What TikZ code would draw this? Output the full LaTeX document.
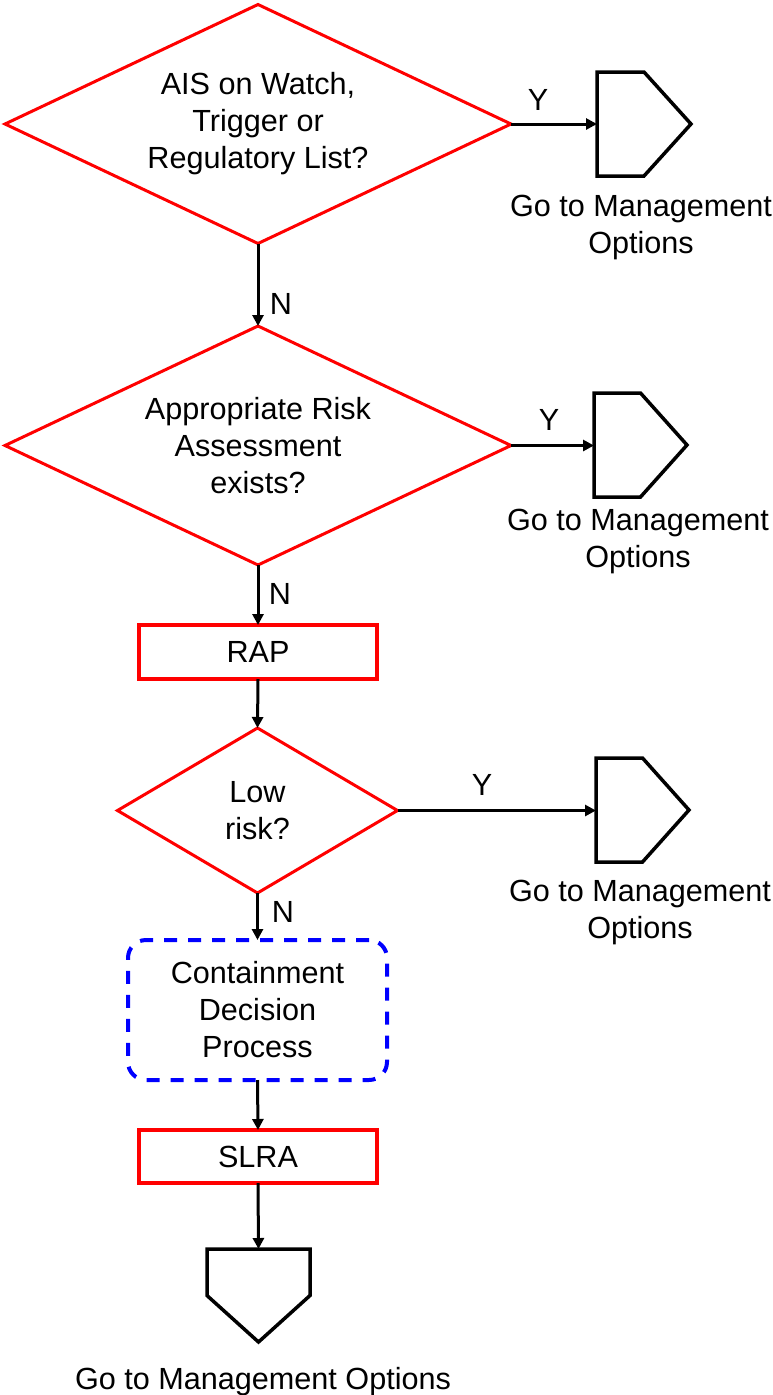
\documentclass[tikz,border=0pt]{standalone}
\usepackage{xcolor}
\usepackage{fontspec}
\setmainfont{Liberation Sans}
\usepackage{tikz}
\usetikzlibrary{positioning, arrows.meta, shapes.geometric}
\definecolor{FlowRed}{RGB}{255,0,0}
\definecolor{FlowBlue}{RGB}{0,0,255}
\newcommand{\flowfont}{\fontsize{30.6}{37}\selectfont}

\begin{document}
\begin{tikzpicture}[x=1pt, y=-1pt, >={Triangle[length=11pt,width=11pt]},
  decision/.style={diamond, draw=FlowRed, line width=3pt, inner sep=0pt, outer sep=0pt, align=center, font=\flowfont},
  process/.style={rectangle, draw=FlowRed, line width=3.5pt, minimum width=238pt, minimum height=54pt, inner sep=0pt, outer sep=0pt, font=\flowfont},
  container/.style={rectangle, rounded corners=18pt, draw=FlowBlue, line width=4pt, dash pattern=on 13pt off 11pt, minimum width=259pt, minimum height=140pt, inner sep=0pt, outer sep=0pt, align=center, font=\flowfont},
  offpage/.style={rectangle, draw=none, inner sep=0pt, outer sep=0pt},
  flowarrow/.style={->, line width=3pt, black},
  lbl/.style={inner sep=0pt, align=center, font=\flowfont}]
  \useasboundingbox (0,0) rectangle (773,1395);

  % decisions and process boxes
  \node[decision, aspect=2.12, minimum width=506pt, minimum height=239pt] (watch) at (258,124) {AIS on Watch,\\Trigger or\\Regulatory List?};
  \node[decision, aspect=2.12, minimum width=506pt, minimum height=239pt] (riskex) at (258,445.5) {Appropriate Risk\\Assessment\\exists?};
  \node[process] (rap) at (258,652) {RAP};
  \node[decision, aspect=1.7, minimum width=280pt, minimum height=165pt] (lowrisk) at (257.5,810.5) {Low\\risk?};
  \node[container] (contain) at (257.5,1010) {Containment\\Decision\\Process};
  \node[process, minimum height=53pt] (slra) at (258,1156.5) {SLRA};

  % off-page connectors
  \node[offpage, minimum width=94pt, minimum height=104pt] (mgmtA) at (644,124) {};
  \node[offpage, minimum width=93pt, minimum height=104pt] (mgmtB) at (640.5,445) {};
  \node[offpage, minimum width=93pt, minimum height=104pt] (mgmtC) at (642.5,810) {};
  \node[offpage, minimum width=103pt, minimum height=93pt] (mgmtD) at (258.5,1295.5) {};
  \foreach \p in {mgmtA, mgmtB, mgmtC}
    \draw[line width=3.5pt, line join=miter] (\p.north west) -- (\p.north) -- (\p.east) -- (\p.south) -- (\p.south west) -- cycle;
  \draw[line width=3.5pt, line join=miter] (mgmtD.north west) -- (mgmtD.north east) -- (mgmtD.east) -- (mgmtD.south) -- (mgmtD.west) -- cycle;

  \node[lbl, anchor=north] (txtA) at (641,195) {Go to Management\\Options};
  \node[lbl, anchor=north] (txtB) at (638,509) {Go to Management\\Options};
  \node[lbl, anchor=north] (txtC) at (640,880) {Go to Management\\Options};
  \node[lbl, anchor=north] (txtD) at (263,1367) {Go to Management Options};

  % connectors
  \draw[flowarrow] (watch.south) -- (riskex.north);
  \draw[flowarrow] (riskex.south) -- (rap.north);
  \draw[flowarrow] (rap.south) -- (lowrisk.north);
  \draw[flowarrow] (lowrisk.south) -- (contain.north);
  \draw[flowarrow] (contain.south) -- (slra.north);
  \draw[flowarrow] (slra.south) -- (mgmtD.north);
  \draw[flowarrow] (watch.east) -- (mgmtA.west);
  \draw[flowarrow] (riskex.east) -- (mgmtB.west |- riskex.east);
  \draw[flowarrow] (lowrisk.east) -- (mgmtC.west |- lowrisk.east);

  % branch labels
  \node[lbl] (yA) at (538,100) {Y};
  \node[lbl] (yB) at (549,420) {Y};
  \node[lbl] (yC) at (482,785) {Y};
  \node[lbl] (nA) at (281,304) {N};
  \node[lbl] (nB) at (280,594) {N};
  \node[lbl] (nC) at (283,912) {N};
\end{tikzpicture}
\end{document}
